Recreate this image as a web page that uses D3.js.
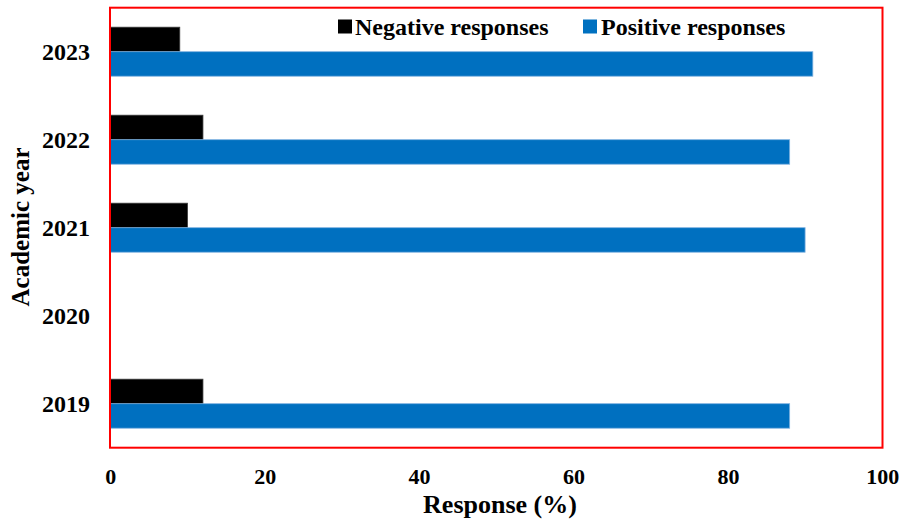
<!DOCTYPE html>
<html>
<head>
<meta charset="utf-8">
<script src="https://cdn.jsdelivr.net/npm/d3@7"></script>
<style>
  html, body { margin: 0; padding: 0; background: #fff; }
  svg { display: block; }
  text { font-family: "Liberation Serif", "Times New Roman", serif; font-weight: bold; fill: #000; }
</style>
</head>
<body>
<svg id="chart" width="902" height="525"></svg>
<script>
// Survey responses per academic year (2020 had no survey)
const years = ["2023", "2022", "2021", "2020", "2019"];
const negative = [9, 12, 10, null, 12];
const positive = [91, 88, 90, null, 88];
const xTicks = [0, 20, 40, 60, 80, 100];
const seriesNames = ["Negative responses", "Positive responses"];
const seriesColors = ["#000000", "#0070C0"];

const svg = d3.select("#chart");
const plot = { left: 110, top: 7.7, right: 882.5, bottom: 447.7 };

const x = d3.scaleLinear().domain([0, 100]).range([110.3, 882.3]);
const y = d3.scaleBand().domain(years).range([plot.top, plot.bottom])
  .paddingInner(0.443).paddingOuter(0.2215);
const sub = d3.scaleBand().domain(seriesNames).range([0, y.bandwidth()]);

const rows = years.map((yr, i) => ({ year: yr, values: [negative[i], positive[i]] }));

// Bars
const g = svg.append("g");
rows.forEach(r => {
  r.values.forEach((v, si) => {
    if (v == null) return;
    g.append("rect")
      .attr("x", x(0))
      .attr("y", y(r.year) + sub(seriesNames[si]))
      .attr("width", x(v) - x(0))
      .attr("height", sub.bandwidth())
      .attr("fill", seriesColors[si])
      .attr("stroke", si === 0 ? "#3a3a3a" : "#7fb2e0")
      .attr("stroke-width", 0.8);
  });
});

// Plot frame
svg.append("rect")
  .attr("x", plot.left).attr("y", plot.top)
  .attr("width", plot.right - plot.left).attr("height", plot.bottom - plot.top)
  .attr("fill", "none").attr("stroke", "#FF0000").attr("stroke-width", 2);

// X axis labels
const xAxis = d3.axisBottom(x).tickValues(xTicks).tickSize(0).tickPadding(0);
const xa = svg.append("g").attr("transform", `translate(0, ${plot.bottom})`).call(xAxis);
xa.select(".domain").remove();
xa.selectAll("text")
  .attr("dy", null).attr("y", 36)
  .style("font-family", '"Liberation Serif", "Times New Roman", serif')
  .style("font-weight", "bold").style("font-size", "22px").attr("fill", "#000");

// Y axis labels
const yAxis = d3.axisLeft(y).tickSize(0).tickPadding(0);
const ya = svg.append("g").attr("transform", "translate(90, 0)").call(yAxis);
ya.select(".domain").remove();
ya.selectAll("text")
  .attr("x", 0).attr("dy", "0.34em")
  .style("font-family", '"Liberation Serif", "Times New Roman", serif')
  .style("font-weight", "bold").style("font-size", "24px").attr("fill", "#000");

// Axis titles
svg.append("text")
  .attr("x", 500).attr("y", 513)
  .attr("text-anchor", "middle")
  .style("font-size", "26px")
  .text("Response (%)");

svg.append("text")
  .attr("transform", "translate(29, 227) rotate(-90)")
  .attr("text-anchor", "middle")
  .style("font-size", "25px")
  .text("Academic year");

// Legend
const legendPos = [{ sx: 338, tx: 355 }, { sx: 583, tx: 601 }];
seriesNames.forEach((name, i) => {
  svg.append("rect")
    .attr("x", legendPos[i].sx).attr("y", 19.5)
    .attr("width", 14).attr("height", 14)
    .attr("fill", seriesColors[i]);
  svg.append("text")
    .attr("x", legendPos[i].tx).attr("y", 35)
    .style("font-size", "24px")
    .text(name);
});
</script>
</body>
</html>
